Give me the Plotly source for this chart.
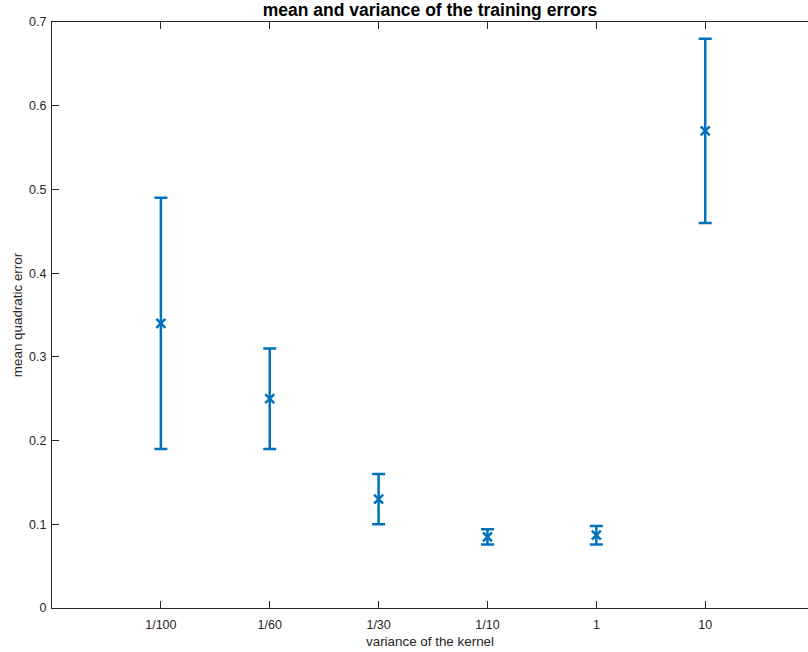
import plotly.graph_objects as go

categories = ["1/100", "1/60", "1/30", "1/10", "1", "10"]
mean_error = [0.34, 0.25, 0.13, 0.085, 0.087, 0.57]
error_spread = [0.15, 0.06, 0.03, 0.009, 0.011, 0.11]
y_ticks = [0, 0.1, 0.2, 0.3, 0.4, 0.5, 0.6, 0.7]

blue = "#0072BD"
axc = "#262626"
font = "Liberation Sans, Arial, Helvetica, sans-serif"

fig = go.Figure()
fig.add_trace(go.Scatter(
    x=categories, y=mean_error, mode="markers",
    marker=dict(symbol="x-thin", size=9, color=blue, line=dict(color=blue, width=2.5)),
    error_y=dict(type="data", array=error_spread, visible=True,
                 color=blue, thickness=2.5, width=6.5),
    showlegend=False,
))

fig.update_layout(
    width=808, height=652,
    margin=dict(l=52, r=0, t=22, b=44, autoexpand=False),
    paper_bgcolor="white", plot_bgcolor="white",
    font=dict(family=font, size=12.5, color=axc),
    title=dict(text="<b>mean and variance of the training errors</b>",
               x=0.5, xref="paper", y=1 - 10 / 652, yref="container", yanchor="middle",
               automargin=False,
               font=dict(family=font, size=17.5, color="#000000")),
    xaxis=dict(
        type="category", categoryorder="array", categoryarray=categories,
        range=[-1, 5.944], showgrid=False, zeroline=False, automargin=False,
        showline=True, linecolor=axc, linewidth=1, mirror="ticks",
        ticks="inside", ticklen=7, tickcolor=axc, tickwidth=1,
        ticklabelstandoff=5,
        title=dict(text="variance of the kernel", standoff=5, font=dict(size=13.4, color=axc)),
        tickfont=dict(size=12.5, color=axc),
    ),
    yaxis=dict(
        range=[0, 0.7], tickvals=y_ticks, ticktext=[f"{v:g}" for v in y_ticks],
        showgrid=False, zeroline=False, automargin=False,
        showline=True, linecolor=axc, linewidth=1, mirror=False,
        ticks="inside", ticklen=7, tickcolor=axc, tickwidth=1,
        ticklabelstandoff=2,
        title=dict(text="mean quadratic error", standoff=3, font=dict(size=13.4, color=axc)),
        tickfont=dict(size=12.5, color=axc),
    ),
    yaxis2=dict(
        overlaying="y", side="right", range=[0, 0.7], tickvals=y_ticks,
        showticklabels=False, showgrid=False, zeroline=False, showline=False,
        ticks="inside", ticklen=2, tickcolor="#808080", tickwidth=1, automargin=False,
    ),
)

fig.write_html("out.html", config={"displayModeBar": False},
               post_script="document.body.style.margin='0';document.body.style.overflow='hidden';")
